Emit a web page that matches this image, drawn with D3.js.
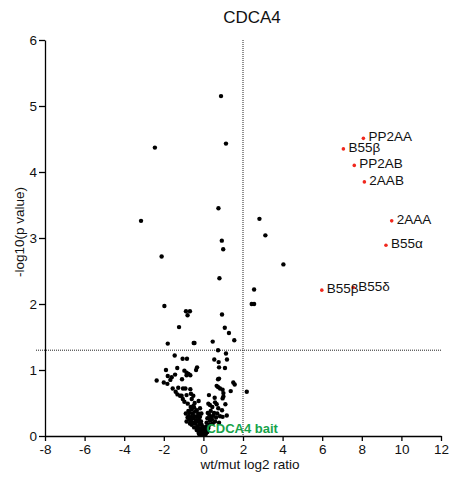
<!DOCTYPE html>
<html>
<head>
<meta charset="utf-8">
<script src="https://cdn.jsdelivr.net/npm/d3@7"></script>
<style>
  body { margin: 0; background: #fff; }
  text { font-family: "Liberation Sans", Arial, Helvetica, sans-serif; }
</style>
</head>
<body>
<svg id="chart" width="452" height="480"></svg>
<script>
// ---- data ----
const xTicks = [-8, -6, -4, -2, 0, 2, 4, 6, 8, 10, 12];
const yTicks = [0, 1, 2, 3, 4, 5, 6];

const hitNames = ["PP2AA", "B55β", "PP2AB", "2AAB", "2AAA", "B55α", "B55β", "B55δ"];
const hitX = [8.08, 7.07, 7.62, 8.13, 9.51, 9.22, 5.98, 7.57];
const hitY = [4.51, 4.35, 4.10, 3.85, 3.26, 2.89, 2.21, 2.25];

const otherX = [
  0.89, 1.14, -2.45, -3.15, 0.76, 2.83, 3.13, 0.93, 1.00, -2.11, 4.04, 0.81, 2.56, 2.44, 2.56,
  -1.97, -0.88, -0.68, -0.80, 0.94, -1.23, 1.08, 1.29, 1.56, 0.47, -0.49, -0.45, -1.80, 0.74, 1.14,
  -1.45, 2.19,
  -1.05, -0.83, -1.89, -1.32, -0.96, -0.85, -0.75, -0.66, -0.85, -0.32, -0.37, -1.80, -1.60, -1.67,
  -1.43, -2.36, -2.00, -1.08, -1.82, -1.55, -1.27, -1.03, -0.91, -0.66, -1.40, -1.18, -1.10, -1.31,
  -0.85, -0.63, -0.51, -1.04, -0.96, -0.79, -0.59, -0.24, -0.64, -0.47, -0.34, -0.42, -0.26, -0.17,
  -0.76, -0.61, -0.51, -0.37, -0.29, -0.85, -0.68, -0.59, -0.47, -0.34, -0.24, -0.09, -0.17, -0.05,
  0.00, -0.54, -0.71, -0.42, -0.31, -0.20, -0.12, -0.46, -0.34, -0.22, -0.12, -0.89, -0.76, -0.59,
  -0.17, -0.10, -0.04, 0.03, -0.63, -0.52,
  -0.28, -0.18, -0.08, -0.40, -0.22, -0.13, -0.06, 0.06, 0.10, -0.30, -0.50, -0.70, -0.80, -0.44,
  0.55, 0.77, 1.19, 0.79, 1.09, 0.74, 0.79, 1.51, 1.58, 0.67, 0.75, 0.84, 1.38, 0.97, 1.01, 1.01,
  0.97, 0.57, 0.28, 1.11, 0.25, 0.33, 0.45, 0.59, 0.67, 0.75, 0.94, 1.18, 0.30, 0.42, 0.50, 0.64,
  0.20, 0.33, 0.47, 0.59, 0.13, 0.25, 0.08, 0.03, 0.79, 0.37, 0.54, 0.16, 0.30, 0.43, 0.70, 0.84, 0.97,
  0.12, 0.20, 0.38, 0.22, 0.05
];
const otherY = [
  5.15, 4.43, 4.37, 3.26, 3.45, 3.29, 3.04, 2.96, 2.83, 2.72, 2.60, 2.39, 2.22, 2.00, 2.00,
  1.97, 1.89, 1.89, 1.83, 1.84, 1.65, 1.64, 1.56, 1.45, 1.43, 1.41, 1.41, 1.40, 1.30, 1.25,
  1.22, 0.67,
  1.17, 1.17, 1.00, 1.03, 0.99, 0.96, 0.94, 0.92, 0.92, 1.04, 1.00, 0.91, 0.89, 0.85,
  0.93, 0.84, 0.81, 0.86, 0.79, 0.72, 0.73, 0.72, 0.72, 0.71, 0.67, 0.61, 0.61, 0.63,
  0.62, 0.64, 0.61, 0.56, 0.52, 0.49, 0.56, 0.53, 0.44, 0.43, 0.39, 0.37, 0.34, 0.29,
  0.30, 0.29, 0.27, 0.24, 0.22, 0.22, 0.19, 0.17, 0.13, 0.09, 0.05, 0.17, 0.09, 0.04,
  0.02, 0.34, 0.25, 0.19, 0.15, 0.12, 0.07, 0.30, 0.29, 0.25, 0.22, 0.34, 0.38, 0.40,
  0.42, 0.34, 0.14, 0.08, 0.23, 0.20,
  0.12, 0.18, 0.10, 0.20, 0.03, 0.02, 0.07, 0.02, 0.04, 0.30, 0.46, 0.35, 0.28, 0.50,
  1.16, 1.12, 1.16, 1.04, 1.03, 0.86, 0.87, 0.81, 0.78, 0.76, 0.74, 0.72, 0.68, 0.70, 0.65, 0.60,
  0.57, 0.58, 0.62, 0.48, 0.49, 0.47, 0.44, 0.51, 0.48, 0.42, 0.39, 0.31, 0.32, 0.29, 0.31, 0.28,
  0.27, 0.23, 0.19, 0.22, 0.14, 0.12, 0.09, 0.05, 0.20, 0.38, 0.35, 0.20, 0.17, 0.25, 0.34, 0.30, 0.29,
  0.03, 0.06, 0.27, 0.35, 0.12
];

const baitLabel = "CDCA4 bait";
const titleText = "CDCA4";
const xLabel = "wt/mut log2 ratio";
const yLabel = "-log10(p value)";
const pThreshold = 1.3;
const foldThreshold = 2;

// ---- chart ----
const svg = d3.select("#chart");
const x = d3.scaleLinear().domain([-8, 12]).range([45, 441]);
const y = d3.scaleLinear().domain([0, 6]).range([436, 40]);

// threshold lines
svg.append("line")
  .attr("x1", 36).attr("x2", x(12))
  .attr("y1", y(pThreshold)).attr("y2", y(pThreshold))
  .attr("stroke", "#222").attr("stroke-width", 1).attr("stroke-dasharray", "1,1");
svg.append("line")
  .attr("x1", x(foldThreshold)).attr("x2", x(foldThreshold))
  .attr("y1", y(6)).attr("y2", y(0))
  .attr("stroke", "#222").attr("stroke-width", 1).attr("stroke-dasharray", "1,1");

// axes
const xAxis = svg.append("g")
  .attr("transform", `translate(0,${y(0)})`)
  .call(d3.axisBottom(x).tickValues(xTicks).tickFormat(d => String(d))
    .tickSize(5).tickSizeOuter(0).tickPadding(3));
const yAxis = svg.append("g")
  .attr("transform", `translate(${x(-8)},0)`)
  .call(d3.axisLeft(y).tickValues(yTicks).tickFormat(d => String(d))
    .tickSize(6).tickSizeOuter(0).tickPadding(2));
[xAxis, yAxis].forEach(g => {
  g.selectAll("path, line").attr("stroke", "#000").attr("stroke-width", 1.3);
  g.selectAll("text").attr("fill", "#111").style("font-size", "13.5px")
    .style("font-family", "'Liberation Sans', Arial, sans-serif");
});

// other points
const others = otherX.map((v, i) => ({ x: v, y: otherY[i] }));
svg.append("g").selectAll("circle").data(others).join("circle")
  .attr("cx", d => x(d.x)).attr("cy", d => y(d.y)).attr("r", 2.2).attr("fill", "#000");

// hits
const hits = hitX.map((v, i) => ({ x: v, y: hitY[i], name: hitNames[i] }));
svg.append("g").selectAll("circle").data(hits).join("circle")
  .attr("cx", d => x(d.x)).attr("cy", d => y(d.y)).attr("r", 1.8).attr("fill", "#f0281e");
svg.append("g").selectAll("text").data(hits).join("text")
  .attr("x", d => x(d.x) + 5).attr("y", d => y(d.y) + 3)
  .attr("font-size", 13.5).attr("fill", "#111").text(d => d.name);

// bait label
svg.append("text")
  .attr("x", x(0) + 3).attr("y", y(0) - 3)
  .attr("font-size", 13).attr("font-weight", "bold").attr("fill", "#16a34a")
  .text(baitLabel);

// title and axis labels
svg.append("text").attr("x", 252).attr("y", 23).attr("text-anchor", "middle")
  .attr("font-size", 17).attr("fill", "#111").text(titleText);
svg.append("text").attr("x", 250).attr("y", 469).attr("text-anchor", "middle")
  .attr("font-size", 13.5).attr("fill", "#111").text(xLabel);
svg.append("text").attr("transform", "translate(24,232) rotate(-90)").attr("text-anchor", "middle")
  .attr("font-size", 13.5).attr("fill", "#111").text(yLabel);
</script>
</body>
</html>
